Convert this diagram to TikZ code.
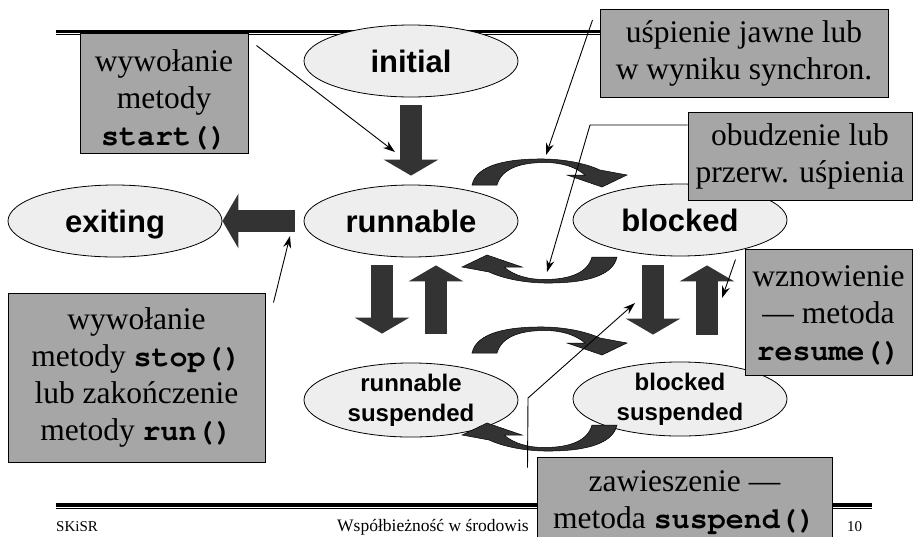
\documentclass[tikz,border=0pt]{standalone}
\usepackage{fontspec}
\setmainfont{Liberation Serif}
\setsansfont{Liberation Sans}
\setmonofont{texgyrecursor}[Extension=.otf, UprightFont=*-regular, BoldFont=*-bold]
\usetikzlibrary{shapes.geometric, arrows.meta}

\definecolor{statefill}{HTML}{EEEEEE}
\definecolor{notefill}{HTML}{A6A6A6}
\definecolor{flowfill}{HTML}{333333}

\newcommand{\statefont}{\sffamily\bfseries\fontsize{31}{36}\selectfont}
\newcommand{\substatefont}{\sffamily\bfseries\fontsize{24}{30}\selectfont}
\newcommand{\notefont}{\rmfamily\fontsize{31.5}{37}\selectfont}
\newcommand{\codetext}[1]{{\ttfamily\bfseries\fontsize{30}{37}\selectfont #1}}

\begin{document}
\begin{tikzpicture}[x=1pt, y=-1pt,
    state/.style={ellipse, draw, line width=0.8pt, fill=statefill, minimum width=214pt, minimum height=72pt, inner sep=0pt, text height=23pt, text depth=1pt, font=\statefont},
    substate/.style={ellipse, draw, line width=0.8pt, fill=statefill, minimum width=214pt, minimum height=68pt, inner sep=0pt, align=center, font=\substatefont},
    note/.style={rectangle, draw, line width=1pt, fill=notefill, inner sep=0pt, align=center, font=\notefont},
    flow/.style={line width=22pt, draw=flowfill, -{Triangle[length=16pt, width=54pt]}},
    pointer/.style={line width=0.9pt, -{Stealth[length=12pt, width=8pt]}},
    swingarrow/.pic={
        \filldraw[fill=flowfill, draw=black, line width=0.5pt] (-72.5,-36) .. controls (-68,-57) and (-35,-62.5) .. (0.5,-62)
            .. controls (25,-61.5) and (45,-56) .. (55.5,-51) -- (82.5,-46) -- (57.5,-34) -- (22.5,-46) -- (40.5,-46)
            .. controls (30,-55) and (15,-58.5) .. (0.5,-58.5) .. controls (-25,-58.5) and (-43,-52) .. (-47.5,-36) -- cycle;
    }
]
    \useasboundingbox (0,0) rectangle (917,536);
    \clip (0,0) rectangle (917,536);

    % Slide rules
    \draw[line width=3.3pt] (56,31.7) -- (872,31.7);
    \draw[line width=1pt] (56,34.8) -- (872,34.8);
    \draw[line width=4pt] (56,504.5) -- (872,504.5);
    \draw[line width=1pt] (56,508.8) -- (872,508.8);

    % Footer
    \node[anchor=base west, inner sep=0pt, font=\fontsize{15}{18}\selectfont] (course) at (56,531) {SKiSR};
    \node[anchor=base west, inner sep=0pt, font=\fontsize{17.5}{18}\selectfont] (title) at (337,531) {Współbieżność w środowis};
    \node[anchor=base west, inner sep=0pt, font=\fontsize{15}{18}\selectfont] (page) at (847,531) {10};

    % Thread states
    \node[state] (initial) at (411,61) {initial};
    \node[state] (exiting) at (115,221) {exiting};
    \node[state] (runnable) at (411,221) {runnable};
    \node[state] (blocked) at (680,220) {blocked};
    \node[substate] (runsusp) at (411,400) {runnable\\suspended};
    \node[substate] (blocksusp) at (680,399) {blocked\\suspended};

    % Transitions
    \draw[flow, shorten <=8pt, shorten >=9pt] (initial) -- (runnable);
    \draw[flow, shorten <=9pt] (runnable) -- (exiting);
    \draw[flow, shorten <=8pt, shorten >=29pt] ([xshift=-29pt]runnable.south) -- ([xshift=-29pt]runsusp.north);
    \draw[flow, shorten <=29pt, shorten >=8pt] ([xshift=25pt]runsusp.north) -- ([xshift=25pt]runnable.south);
    \draw[flow, shorten <=9pt, shorten >=27pt] ([xshift=-27pt]blocked.south) -- ([xshift=-27pt]blocksusp.north);
    \draw[flow, shorten <=27pt, shorten >=9pt] ([xshift=27pt]blocksusp.north) -- ([xshift=27pt]blocked.south);
    \foreach \y in {221, 389} {
        \pic at (544.5,\y) {swingarrow};
        \pic[rotate=180] at (544.5,\y) {swingarrow};
    }

    % Comments
    \node[note, minimum width=168pt, minimum height=120pt] (startnote) at (164,93) {\rule{0pt}{36pt}wywołanie\\metody\\\codetext{start()}};
    \node[note, minimum width=288pt, minimum height=88pt] (sleepnote) at (744,53) {uśpienie jawne lub\\w wyniku synchron.};
    \node[note, minimum width=224pt, minimum height=88pt] (wakenote) at (800,156) {obudzenie lub\\przerw. uśpienia};
    \node[note, minimum width=167pt, minimum height=126pt] (resumenote) at (828.5,312) {\rule{0pt}{28pt}wznowienie\\— metoda\\\codetext{resume()}};
    \node[note, minimum width=257pt, minimum height=169pt] (stopnote) at (136.5,377.5) {wywołanie\\metody \codetext{stop()}\\lub zakończenie\\metody \codetext{run()}};
    \node[note, minimum width=295pt, minimum height=92pt] (suspendnote) at (684.5,503) {zawieszenie —\\metoda \codetext{suspend()}};

    % Pointers
    \coordinate (starttip) at (395,152);
    \coordinate (sleeptip) at (546,155);
    \coordinate (wakebend) at (590,125);
    \coordinate (waketip) at (547,272);
    \coordinate (stoptip) at (290,236);
    \coordinate (resumetip) at (722,298);
    \coordinate (suspendbend) at (528,398);
    \coordinate (suspendtip) at (635,303);
    \draw[pointer] ([shift={(8,13)}]startnote.north east) -- (starttip);
    \draw[pointer] ([shift={(-7,-33)}]sleepnote.west) -- (sleeptip);
    \draw[pointer] ([yshift=31pt]wakenote.west) -- (wakebend) -- (waketip);
    \draw[pointer] ([shift={(8,10)}]stopnote.north east) -- (stoptip);
    \draw[pointer] ([shift={(-9,11)}]resumenote.north west) -- (resumetip);
    \draw[pointer] ([shift={(-9,11)}]suspendnote.north west) -- (suspendbend) -- (suspendtip);
\end{tikzpicture}
\end{document}
